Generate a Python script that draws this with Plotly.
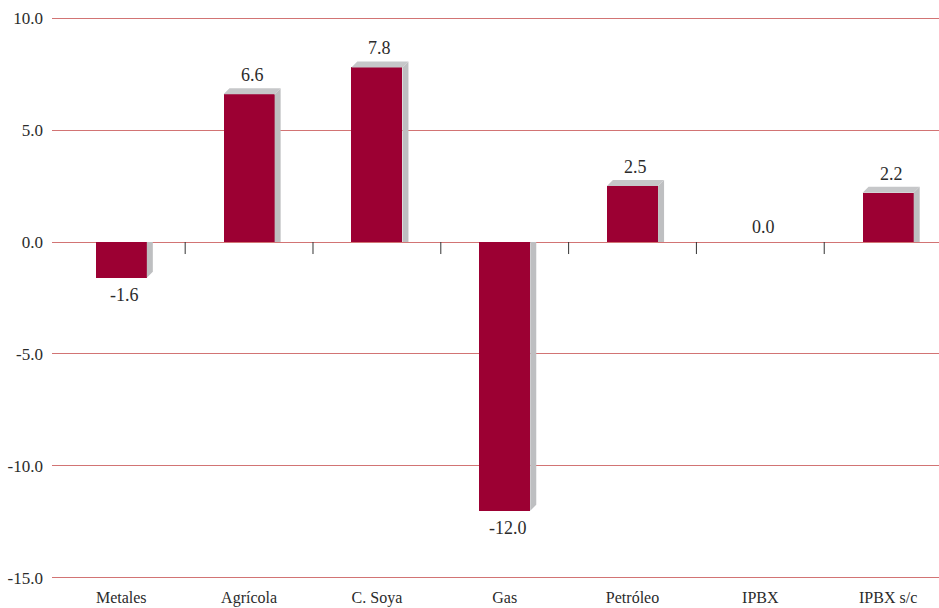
import plotly.graph_objects as go

categories = ["Metales", "Agrícola", "C. Soya", "Gas", "Petróleo", "IPBX", "IPBX s/c"]
values = [-1.6, 6.6, 7.8, -12.0, 2.5, 0.0, 2.2]
y_ticks = [10, 5, 0, -5, -10, -15]
y_tick_labels = ["10.0", "5.0", "0.0", "-5.0", "-10.0", "-15.0"]

W, H = 939, 608
ML, MR, MT, MB = 52, 0, 17, 29
x_range = [-0.542, 6.398]
y_range = [-15.05, 10.05]
px_x = (W - ML - MR) / (x_range[1] - x_range[0])
px_y = (H - MT - MB) / (y_range[1] - y_range[0])

FACE = "#9C0033"
SIDE = "#BEBFC1"
TOP = "#C6C7C9"
GRID = "#D27474"
TXT = "#2b2b2b"
FONT = "Liberation Serif"

bar_w = 0.4
depth = 6
dx = depth / px_x
dy = depth / px_y

fig = go.Figure()

for i, v in enumerate(values):
    if v == 0:
        continue
    x0, x1 = i - bar_w / 2, i + bar_w / 2
    if v > 0:
        fig.add_trace(go.Scatter(x=[x1, x1, x1 + dx, x1 + dx, x1], y=[0, v, v + dy, 0, 0],
                                 fill="toself", fillcolor=SIDE, line=dict(width=0), mode="lines",
                                 hoverinfo="skip", showlegend=False))
        fig.add_trace(go.Scatter(x=[x0, x0 + dx, x1 + dx, x1, x0], y=[v, v + dy, v + dy, v, v],
                                 fill="toself", fillcolor=TOP, line=dict(width=0), mode="lines",
                                 hoverinfo="skip", showlegend=False))
    else:
        fig.add_trace(go.Scatter(x=[x1, x1 + dx, x1 + dx, x1, x1], y=[0, 0, v + dy, v, 0],
                                 fill="toself", fillcolor=SIDE, line=dict(width=0), mode="lines",
                                 hoverinfo="skip", showlegend=False))

fig.add_trace(go.Bar(x=list(range(len(categories))), y=values, width=bar_w,
                     marker=dict(color=FACE, line=dict(width=0)), showlegend=False,
                     hoverinfo="skip"))

for i, v in enumerate(values):
    if v > 0:
        fig.add_annotation(x=i + dx / 2, y=v + dy, text=f"{v:.1f}", showarrow=False,
                           yanchor="bottom", yshift=1, font=dict(family=FONT, size=18, color=TXT))
    elif v < 0:
        fig.add_annotation(x=i + dx / 2, y=v, text=f"{v:.1f}", showarrow=False,
                           yanchor="top", yshift=-5, font=dict(family=FONT, size=18, color=TXT))
    else:
        fig.add_annotation(x=i + dx / 2, y=0, text=f"{v:.1f}", showarrow=False,
                           yanchor="bottom", yshift=3, font=dict(family=FONT, size=18, color=TXT))

tick_len = 12 / px_y
for k in range(len(categories) - 1):
    fig.add_shape(type="line", xref="x", yref="y", x0=k + 0.5, x1=k + 0.5, y0=0, y1=-tick_len,
                  line=dict(color="#333333", width=1))

fig.update_layout(
    width=W, height=H,
    margin=dict(l=ML, r=MR, t=MT, b=MB),
    plot_bgcolor="white", paper_bgcolor="white",
    bargap=0,
    xaxis=dict(range=x_range, tickvals=list(range(len(categories))), ticktext=categories,
               showgrid=False, zeroline=False, showline=False, ticks="",
               tickfont=dict(family=FONT, size=16, color=TXT), ticklabelstandoff=7),
    yaxis=dict(range=y_range, tickvals=y_ticks, ticktext=y_tick_labels,
               showgrid=True, gridcolor=GRID, gridwidth=1, zeroline=True, zerolinecolor=GRID,
               zerolinewidth=1, showline=False, ticks="",
               tickfont=dict(family=FONT, size=17, color=TXT), ticklabelstandoff=8),
)

fig.write_html("out.html")
